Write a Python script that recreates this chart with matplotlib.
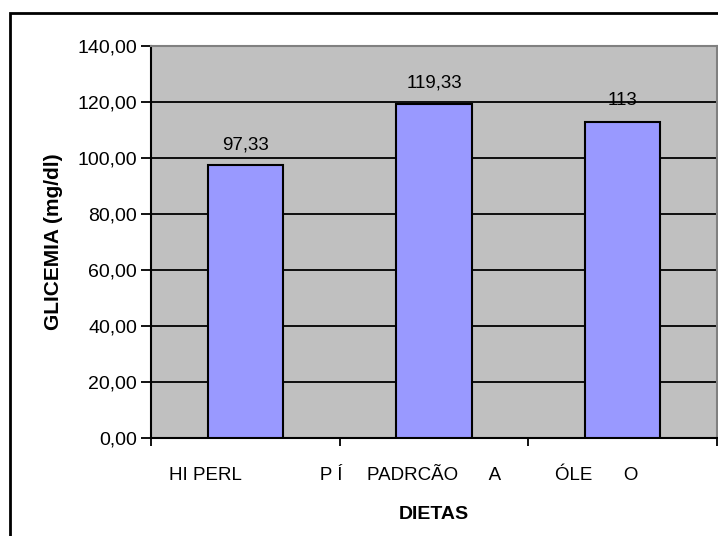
import matplotlib
matplotlib.use("Agg")
import matplotlib.pyplot as plt
from matplotlib.patches import Rectangle
from matplotlib.ticker import FuncFormatter, FixedLocator

plt.rcParams['font.family'] = ['Liberation Sans', 'DejaVu Sans']

categories = ["    HI PERL               P Í", "PADRCÃO      A", "ÓLE      O          "]
values = [97.33, 119.33, 113]
value_labels = ["97,33", "119,33", "113"]
yticks = [0, 20, 40, 60, 80, 100, 120, 140]

W, H = 718, 536
fig = plt.figure(figsize=(W / 100, H / 100), dpi=100)

# outer chart border
fig.patches.append(Rectangle((10 / W, -0.2), 1.5, 1.2 - 13 / H,
                             transform=fig.transFigure, fill=False,
                             edgecolor='black', linewidth=2))

ax = fig.add_axes([151 / W, 1 - 438 / H, 566 / W, 392 / H])
ax.set_facecolor('#C0C0C0')

x = [i + 0.5 for i in range(len(values))]
ax.bar(x, values, width=0.4, color='#9999FF', edgecolor='black', linewidth=1.5, zorder=3)

for xi, v, lab in zip(x, values, value_labels):
    ax.annotate(lab, (xi, v), xytext=(0, 15), textcoords='offset points',
                ha='center', va='center', fontsize=13.5, color='black', zorder=4)

ax.set_xlim(0, len(values))
ax.set_ylim(0, 140)
ax.set_yticks(yticks)
ax.yaxis.set_major_formatter(FuncFormatter(lambda v, p: f"{v:.2f}".replace('.', ',')))
ax.grid(axis='y', color='black', linewidth=1.3, zorder=1)
ax.set_axisbelow(True)

ax.xaxis.set_major_locator(FixedLocator(list(range(len(values) + 1))))
ax.xaxis.set_major_formatter(FuncFormatter(lambda v, p: ""))
ax.set_xticks(x, minor=True)
ax.set_xticklabels(categories, minor=True)
ax.tick_params(axis='x', which='minor', length=0, pad=21, labelsize=13.5)
ax.tick_params(axis='x', which='major', length=6, width=1.3, direction='out')
ax.tick_params(axis='y', length=7, width=1.3, direction='out', labelsize=14, pad=3)

for s in ['left', 'bottom']:
    ax.spines[s].set_color('black')
    ax.spines[s].set_linewidth(1.5)
for s in ['top', 'right']:
    ax.spines[s].set_color('#808080')
    ax.spines[s].set_linewidth(1.5)

ax.set_xlabel("DIETAS", fontsize=14, fontweight='bold', labelpad=16)
ax.set_ylabel("GLICEMIA (mg/dl)", fontsize=15, fontweight='bold', labelpad=10)

fig.savefig("out.png", dpi=100)
